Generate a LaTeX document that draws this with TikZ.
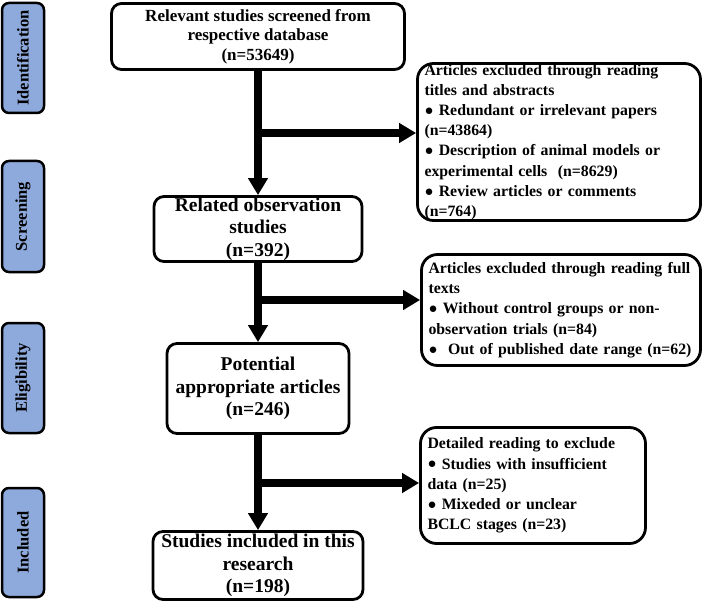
\documentclass[tikz,border=0pt]{standalone}
\usepackage{fontspec}
\setmainfont{Liberation Serif}
\usepackage{tikz}
\usetikzlibrary{arrows.meta}
\definecolor{tabblue}{RGB}{142,169,219}
\newcommand{\dotitem}{\raisebox{0.2pt}{\fontsize{15}{15}\selectfont ●}\ }
\tikzstyle{stage}=[draw=black, line width=2.5pt, rounded corners=7pt, fill=tabblue, rotate=90, minimum height=42pt, inner sep=0pt, font=\bfseries\fontsize{16.5}{18}\selectfont]
\tikzstyle{mainbox}=[draw, line width=2.8pt, rounded corners=10pt, align=center, inner sep=0pt, font=\bfseries\fontsize{19.5}{22.6}\selectfont]
\tikzstyle{sidebox}=[draw, line width=2.8pt, rounded corners=16pt, align=left, inner xsep=7pt, inner ysep=0pt, font=\bfseries\fontsize{15.8}{20.2}\selectfont]
\tikzstyle{arrow}=[-{Triangle[width=19pt,length=17pt]}, line width=8pt]

\begin{document}
\begin{tikzpicture}[x=1pt, y=-1pt]
      \useasboundingbox (0,0) rectangle (704,604);

      % stages
      \node [stage, minimum width=110pt] (ident) at (23,58) {Identification};
      \node [stage, minimum width=111pt] (screen) at (23,216.5) {Screening};
      \node [stage, minimum width=110pt] (elig) at (23,378) {Eligibility};
      \node [stage, minimum width=109pt] (incl) at (23,542.5) {Included};

      % main flow
      \node [mainbox, minimum width=293pt, minimum height=66pt, font=\bfseries\fontsize{17}{19.5}\selectfont] (screened) at (258,36.5) {Relevant studies screened from\\respective database\\(n=53649)};
      \node [mainbox, minimum width=208pt, minimum height=65pt] (related) at (258,229) {Related observation\\studies\\(n=392)};
      \node [mainbox, minimum width=182pt, minimum height=90pt] (potential) at (258,388.5) {Potential\\appropriate articles\\(n=246)};
      \node [mainbox, minimum width=210pt, minimum height=68pt] (included) at (258,565.5) {Studies included in this\\research\\(n=198)};

      % exclusions
      \node [sidebox, text width=269pt, minimum height=157pt] (excl1) at (559,142) {Articles excluded through reading\\titles and abstracts\\\dotitem Redundant or irrelevant papers\\(n=43864)\\\dotitem Description of animal models or\\experimental cells\ \ (n=8629)\\\dotitem Review articles or comments\\(n=764)};
      \node [sidebox, text width=265pt, minimum height=111pt] (excl2) at (561,310) {Articles excluded through reading full\\texts\\\dotitem Without control groups or non-\\observation trials (n=84)\\\dotitem\ Out of published date range (n=62)};
      \node [sidebox, text width=211pt, minimum height=116pt] (excl3) at (533,485.5) {Detailed reading to exclude\\\dotitem Studies with insufficient\\data (n=25)\\\dotitem Mixeded or unclear\\BCLC stages (n=23)};

      \coordinate (b1) at (258,133);
      \coordinate (b2) at (258,300);
      \coordinate (b3) at (258,483);

      \draw [arrow] (screened) -- (related);
      \draw [arrow] (related) -- (potential);
      \draw [arrow] (potential) -- (included);
      \draw [arrow] (b1) -- (b1 -| excl1.west);
      \draw [arrow] (b2) -- (b2 -| excl2.west);
      \draw [arrow] (b3) -- (b3 -| excl3.west);
\end{tikzpicture}
\end{document}
